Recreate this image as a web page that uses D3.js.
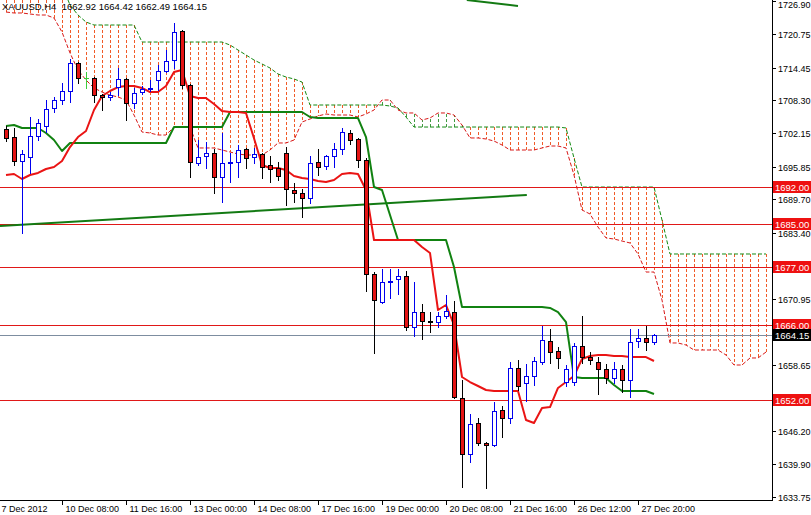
<!DOCTYPE html>
<html><head><meta charset="utf-8">
<script src="https://cdn.jsdelivr.net/npm/d3@7"></script>
<style>
body{margin:0;background:#fff;}
svg{display:block;}
text{font-family:"Liberation Sans",Arial,sans-serif;}
</style>
</head><body>
<svg id="c" width="811" height="515"></svg>
<script>
// ---------- DATA ----------
const symbol = "XAUUSD,H4";
const open = [1702.93,1701.42,1696.91,1697.66,1701.61,1703.49,1706.88,1708.38,1710.07,1715.34,
1712.52,1712.52,1709.32,1708.94,1710.82,1712.33,1707.82,1709.88,1710.45,1712.14,
1713.83,1715.90,1721.35,1711.20,1696.54,1697.85,1698.42,1693.90,1696.54,1696.72,
1699.17,1697.66,1698.23,1696.16,1695.60,1698.42,1691.46,1690.90,1689.96,1696.72,
1695.97,1697.85,1699.17,1702.18,1701.05,1697.10,1675.67,1670.40,1674.16,1674.73,
1675.29,1665.70,1668.52,1666.83,1666.64,1667.77,1668.52,1652.36,1641.83,1647.66,
1643.90,1643.52,1650.10,1648.60,1658.00,1655.18,1656.49,1659.12,1663.07,1661.19,
1655.36,1655.36,1662.13,1660.06,1659.12,1657.81,1656.12,1657.81,1655.74,1663.07,
1663.64,1662.92];
const high = [1703.49,1703.12,1698.98,1705.18,1704.81,1708.38,1708.94,1711.58,1716.09,1715.52,
1713.64,1712.70,1709.51,1709.88,1714.40,1712.52,1710.64,1711.01,1712.14,1714.96,
1717.78,1722.86,1721.54,1711.39,1700.86,1700.48,1699.17,1702.18,1698.42,1699.92,
1699.36,1699.36,1698.42,1697.85,1696.72,1699.54,1692.78,1691.65,1697.85,1699.17,
1698.04,1700.30,1703.12,1702.74,1701.24,1697.48,1676.04,1676.61,1676.61,1676.61,
1676.23,1674.16,1670.03,1668.52,1668.52,1671.72,1670.59,1655.74,1649.35,1648.60,
1644.10,1651.60,1650.85,1659.12,1659.50,1658.75,1660.06,1665.89,1665.33,1661.94,
1658.56,1662.70,1667.77,1661.00,1660.06,1658.75,1659.12,1658.56,1665.33,1665.33,
1665.89,1664.42];
const low = [1700.67,1696.16,1683.38,1694.66,1700.86,1702.36,1706.12,1707.63,1708.00,1711.58,
1710.64,1708.00,1706.50,1708.38,1709.32,1704.62,1706.88,1709.51,1710.07,1710.26,
1713.64,1714.40,1710.64,1693.90,1696.16,1695.60,1690.90,1689.20,1692.96,1693.90,
1695.60,1696.54,1693.72,1692.96,1693.34,1688.64,1689.20,1686.38,1689.02,1694.28,
1695.41,1695.78,1698.23,1700.11,1695.78,1672.47,1660.82,1670.22,1671.16,1671.91,
1665.14,1664.01,1663.45,1664.76,1665.70,1667.40,1652.36,1635.62,1640.32,1643.52,
1635.44,1643.33,1645.02,1647.66,1653.86,1651.79,1654.80,1658.75,1658.94,1658.00,
1654.61,1654.80,1658.94,1658.75,1653.11,1655.18,1655.18,1653.48,1652.54,1661.94,
1661.38,1662.49];
const close = [1701.24,1696.91,1698.23,1701.61,1704.06,1706.69,1708.38,1710.07,1715.34,1712.52,
1712.52,1709.32,1708.94,1709.32,1712.33,1707.82,1709.70,1710.45,1710.64,1713.83,
1715.71,1721.16,1711.20,1696.72,1697.66,1698.42,1693.90,1696.54,1696.72,1698.98,
1697.48,1698.23,1695.78,1695.41,1694.09,1691.65,1690.90,1689.96,1696.54,1695.78,
1697.85,1699.17,1702.36,1700.86,1697.10,1675.67,1670.78,1674.16,1674.35,1675.29,
1665.70,1668.52,1666.83,1666.64,1667.77,1668.71,1652.54,1641.83,1647.47,1643.90,
1643.52,1649.91,1648.60,1658.00,1654.61,1656.49,1659.31,1663.26,1661.00,1659.88,
1657.81,1662.13,1660.06,1659.50,1657.81,1656.12,1657.81,1655.74,1662.88,1663.64,
1662.88,1664.15];
const tenkan = [1694.28,1694.47,1693.53,1694.28,1694.66,1695.41,1695.78,1696.91,1699.54,1701.42,
1702.55,1706.50,1709.13,1710.07,1710.82,1711.01,1711.01,1710.64,1709.88,1709.88,
1711.01,1713.64,1714.02,1709.13,1708.76,1708.76,1707.63,1706.31,1706.12,1706.12,
1705.94,1701.20,1696.16,1695.60,1695.60,1695.22,1694.09,1693.72,1693.53,1693.15,
1692.96,1693.34,1694.47,1694.66,1694.47,1691.46,1682.06,1682.06,1682.06,1682.06,
1682.06,1682.06,1680.74,1679.62,1668.90,1669.84,1666.08,1656.30,1655.36,1654.61,
1653.86,1653.67,1653.67,1653.67,1653.67,1648.22,1647.66,1650.48,1650.66,1654.24,
1655.36,1656.49,1659.69,1660.25,1660.44,1660.44,1660.25,1660.25,1660.06,1660.06,
1660.06,1659.31];
const kijun = [1703.49,1703.68,1703.12,1703.12,1703.12,1702.18,1700.86,1698.79,1700.30,1700.30,
1700.30,1700.30,1700.30,1700.30,1700.30,1700.30,1700.30,1700.30,1700.30,1700.30,
1700.30,1703.30,1703.30,1703.30,1703.30,1703.30,1703.30,1703.30,1706.12,1706.12,
1706.12,1706.12,1706.12,1706.12,1706.12,1706.12,1706.12,1706.12,1705.18,1704.99,
1704.99,1704.99,1704.99,1704.99,1704.99,1701.42,1692.02,1691.46,1686.76,1682.06,
1682.06,1682.06,1682.06,1682.06,1682.06,1682.06,1676.98,1669.46,1669.46,1669.46,
1669.46,1669.46,1669.46,1669.46,1669.46,1669.46,1669.46,1669.46,1669.28,1668.52,
1666.64,1656.30,1656.12,1656.12,1656.12,1656.12,1654.80,1653.67,1653.67,1653.67,
1653.67,1653.11];
const spanG = [1730.00,1730.00,1730.00,1730.00,1730.00,1730.00,1730.00,1730.00,1726.24,1724.36,
1723.04,1722.48,1722.48,1722.48,1722.48,1722.48,1722.48,1719.28,1719.28,1719.28,
1719.28,1719.28,1719.28,1719.28,1719.28,1719.28,1719.28,1719.28,1718.72,1717.78,
1716.84,1715.90,1715.15,1714.40,1713.27,1712.70,1712.33,1711.76,1707.44,1707.44,
1707.44,1707.44,1707.44,1707.44,1707.44,1707.44,1707.44,1707.44,1707.25,1706.88,
1705.18,1703.30,1703.30,1703.30,1703.30,1703.30,1703.30,1703.30,1703.30,1703.30,
1703.30,1703.30,1703.30,1703.30,1703.30,1703.30,1703.30,1703.30,1703.30,1703.30,
1703.12,1697.48,1692.02,1692.02,1692.02,1692.02,1692.02,1692.02,1692.02,1692.02,
1692.02,1692.02,1685.82,1679.43,1679.43,1679.43,1679.43,1679.43,1679.43,1679.43,
1679.43,1679.43,1679.43,1679.43,1679.43,1679.43];
const spanR = [1724.92,1724.74,1724.74,1724.55,1724.36,1724.36,1723.80,1721.16,1717.22,1714.02,
1712.14,1710.64,1709.88,1709.32,1708.94,1708.38,1705.56,1702.36,1702.18,1701.80,
1701.80,1703.30,1703.30,1703.30,1699.36,1699.36,1699.36,1698.98,1698.60,1698.23,
1698.04,1698.04,1698.04,1698.98,1700.30,1700.30,1700.86,1704.24,1704.81,1705.37,
1705.75,1705.56,1705.56,1705.56,1705.18,1705.75,1706.50,1708.38,1708.38,1706.50,
1705.94,1705.94,1704.62,1705.00,1705.94,1705.94,1705.56,1703.68,1701.24,1701.24,
1701.05,1700.67,1699.92,1698.98,1698.98,1698.98,1698.98,1699.36,1699.73,1699.73,
1699.36,1694.28,1687.70,1686.95,1684.50,1682.44,1682.25,1681.87,1681.50,1679.43,
1676.04,1676.04,1670.78,1662.70,1662.70,1662.32,1661.38,1661.38,1661.38,1661.38,
1660.44,1658.56,1658.56,1659.88,1659.88,1661.00];
const levels = [1692.00, 1685.00, 1677.00, 1666.00, 1652.00];
const bid = 1664.15;
const priceTicks = [1726.90,1720.75,1714.45,1708.30,1702.15,1695.85,1689.70,1683.40,1670.95,1658.65,1646.20,1639.90,1633.75];
const timeTickBars = [-1,7,15,23,31,39,47,55,63,71,79];
const timeTickLabels = ["7 Dec 2012","10 Dec 08:00","11 Dec 16:00","13 Dec 00:00","14 Dec 08:00","17 Dec 16:00","19 Dec 00:00","20 Dec 08:00","21 Dec 16:00","26 Dec 12:00","27 Dec 20:00"];
const trendBars = [[-0.75, 65.1], [57.6, 64.0]];
const trendPrices = [[1684.69, 1690.52], [1727.18, 1726.05]];

// ---------- CHART ----------
const W = 811, H = 515, PW = 772, PH = 500;
const svg = d3.select("#c");
const x = d3.scaleLinear().domain([-0.75, 95.75]).range([0, PW]);
const y = d3.scaleLinear().domain([1633.18, 1727.18]).range([PH, 0]);
const px = v => Math.round(v) + 0.5;

svg.append("rect").attr("width", W).attr("height", H).attr("fill", "#fff");
svg.append("defs").append("clipPath").attr("id", "clip")
  .append("rect").attr("width", PW).attr("height", PH);
const plot = svg.append("g").attr("clip-path", "url(#clip)");

// cloud hatch
const cIdx = d3.range(spanG.length);
plot.append("g").selectAll("line").data(cIdx).join("line")
  .attr("x1", i => px(x(i))).attr("x2", i => px(x(i)))
  .attr("y1", i => y(spanG[i])).attr("y2", i => y(spanR[i]))
  .attr("stroke", i => spanG[i] >= spanR[i] ? "#f05a28" : "#3f9a3f")
  .attr("stroke-width", 1).attr("stroke-dasharray", "3,2");

// cloud borders
const spanLine = arr => d3.line().x(i => x(i)).y(i => y(arr[i]))(cIdx);
plot.append("path").attr("d", spanLine(spanR)).attr("fill", "none")
  .attr("stroke", "#d81818").attr("stroke-width", 1).attr("stroke-dasharray", "4,2");
plot.append("path").attr("d", spanLine(spanG)).attr("fill", "none")
  .attr("stroke", "#138a13").attr("stroke-width", 1).attr("stroke-dasharray", "4,2");

// horizontal levels
plot.append("g").selectAll("line").data(levels).join("line")
  .attr("x1", 0).attr("x2", PW).attr("y1", d => px(y(d))).attr("y2", d => px(y(d)))
  .attr("stroke", "#e01818").attr("stroke-width", 1);
plot.append("line").attr("x1", 0).attr("x2", PW).attr("y1", px(y(bid))).attr("y2", px(y(bid)))
  .attr("stroke", "#7d8da0").attr("stroke-width", 1);

// trend lines
plot.append("g").selectAll("line").data(d3.range(trendBars.length)).join("line")
  .attr("x1", i => x(trendBars[i][0])).attr("x2", i => x(trendBars[i][1]))
  .attr("y1", i => y(trendPrices[i][0])).attr("y2", i => y(trendPrices[i][1]))
  .attr("stroke", "#137a13").attr("stroke-width", 2);

// Kijun & Tenkan
const bIdx = d3.range(open.length);
const ind = arr => d3.line().x(i => x(i)).y(i => y(arr[i]))(bIdx);
plot.append("path").attr("d", ind(kijun)).attr("fill", "none")
  .attr("stroke", "#118211").attr("stroke-width", 2).attr("stroke-linejoin", "round");
plot.append("path").attr("d", ind(tenkan)).attr("fill", "none")
  .attr("stroke", "#ea1414").attr("stroke-width", 2).attr("stroke-linejoin", "round");

// candles
const cg = plot.append("g").attr("shape-rendering", "crispEdges");
bIdx.forEach(i => {
  const cx = px(x(i));
  const o = open[i], c = close[i];
  const bull = c > o, doji = c === o;
  const col = doji ? "#3ccc3c" : (bull ? "#0000ee" : "#000");
  cg.append("line").attr("x1", cx).attr("x2", cx)
    .attr("y1", Math.round(y(high[i]))).attr("y2", Math.round(y(low[i])) + 1)
    .attr("stroke", col).attr("stroke-width", 1);
  if (doji) {
    cg.append("line").attr("x1", cx - 2.5).attr("x2", cx + 2.5)
      .attr("y1", px(y(o))).attr("y2", px(y(o))).attr("stroke", col);
  } else {
    const t = Math.round(y(Math.max(o, c))), b = Math.round(y(Math.min(o, c)));
    cg.append("rect").attr("x", cx - 2).attr("y", t + 0.5)
      .attr("width", 4).attr("height", Math.max(b - t, 1))
      .attr("fill", bull ? "#fff" : "#e41414")
      .attr("stroke", bull ? "#0000ee" : "#000").attr("stroke-width", 1);
  }
});

// axes
svg.append("line").attr("x1", PW + 0.5).attr("x2", PW + 0.5).attr("y1", 0).attr("y2", PH + 1)
  .attr("stroke", "#000");
svg.append("line").attr("x1", 0).attr("x2", PW + 1).attr("y1", PH + 0.5).attr("y2", PH + 0.5)
  .attr("stroke", "#000");
const yt = svg.append("g");
priceTicks.forEach(v => {
  const yy = px(y(v));
  yt.append("line").attr("x1", PW).attr("x2", PW + 4).attr("y1", yy).attr("y2", yy).attr("stroke", "#000");
  yt.append("text").attr("x", PW + 6).attr("y", Math.max(yy + 3.5, 8)).attr("font-size", "9px")
    .attr("fill", "#000").text(v.toFixed(2));
});
const xt = svg.append("g");
timeTickBars.forEach((b, i) => {
  const xx = px(x(b));
  xt.append("line").attr("x1", xx).attr("x2", xx).attr("y1", PH).attr("y2", PH + 5).attr("stroke", "#000");
  xt.append("text").attr("x", xx + 3).attr("y", PH + 12).attr("font-size", "9px")
    .attr("fill", "#000").text(timeTickLabels[i]);
});

// price labels
const lab = (v, fill) => {
  const yy = Math.round(y(v));
  svg.append("rect").attr("x", PW + 1).attr("y", yy - 6).attr("width", W - PW - 1).attr("height", 12).attr("fill", fill);
  svg.append("text").attr("x", PW + 3).attr("y", yy + 3.5).attr("font-size", "9.5px")
    .attr("fill", "#fff").text(v.toFixed(2));
};
levels.forEach(v => lab(v, "#ee1111"));
lab(bid, "#000");

// title
const last = open.length - 1;
svg.append("text").attr("x", 2).attr("y", 10).attr("font-size", "9.5px").attr("fill", "#000")
  .attr("xml:space", "preserve")
  .text(symbol + "  " + [open[last], high[last], low[last], close[last]].map(v => v.toFixed(2)).join(" "));
</script>
</body></html>
